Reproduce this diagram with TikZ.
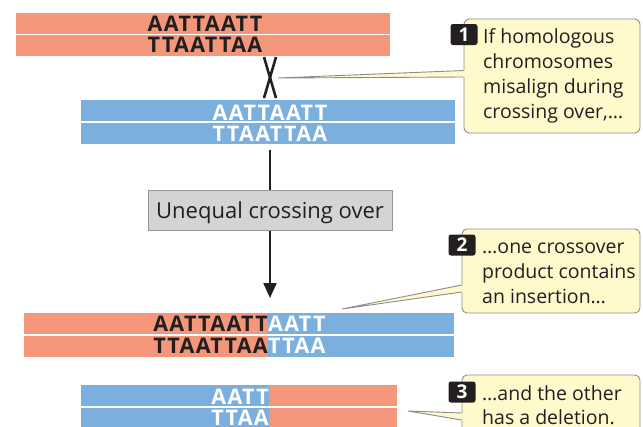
\documentclass[tikz,border=0pt]{standalone}
\usepackage{fontspec}
\setmainfont{Open Sans}
\newfontfamily\dnafont[LetterSpace=6]{Open Sans Bold}
\usetikzlibrary{arrows.meta}
\definecolor{salmon}{RGB}{244,150,122}
\definecolor{skyb}{RGB}{122,175,222}
\definecolor{callfill}{RGB}{255,249,204}
\definecolor{callline}{RGB}{140,140,140}
\definecolor{boxfill}{RGB}{212,212,212}
\definecolor{boxline}{RGB}{150,150,150}
\definecolor{txt}{RGB}{35,31,32}
\tikzset{
  redstrip/.style={fill=salmon, draw=none, inner sep=0pt, minimum height=21pt},
  bluestrip/.style={fill=skyb, draw=none, inner sep=0pt, minimum height=21pt},
  dnab/.style={inner sep=0pt, font=\dnafont\fontsize{21.5}{24}\selectfont, text=txt},
  dnaw/.style={inner sep=0pt, font=\dnafont\fontsize{21.5}{24}\selectfont, text=white},
  callbox/.style={fill=callfill, draw=callline, line width=0.9pt, rounded corners=5pt, inner sep=0pt},
  calltext/.style={inner sep=0pt, anchor=base west, font=\fontsize{19.5}{25}\selectfont, text=txt},
  badge/.style={fill=txt, rounded corners=2.5pt, inner sep=0pt, minimum width=27pt, minimum height=21pt,
     text=white, font=\bfseries\fontsize{19}{20}\selectfont},
  leader/.style={draw=callline, line width=0.9pt},
  graybox/.style={fill=boxfill, draw=boxline, line width=0.8pt, inner sep=0pt, minimum width=244pt, minimum height=40pt},
  xline/.style={draw=txt, line width=2.6pt},
  flowarrow/.style={draw=txt, line width=2.1pt, -{Triangle[width=13pt,length=15pt]}}
}
\begin{document}
\begin{tikzpicture}[x=1pt,y=-1pt]
\useasboundingbox (0,0) rectangle (643,426);
\clip (0,0) rectangle (643,426);

% top red chromosome
\node[redstrip, minimum width=374pt] (r1a) at (203,23) {};
\node[redstrip, minimum width=374pt] (r1b) at (203,45.2) {};
\node[dnab, anchor=base] (r1at) at (205,31.5) {AATTAATT};
\node[dnab, anchor=base] (r1bt) at (205,52.3) {TTAATTAA};

% crossover X
\coordinate (xa) at (264,57);
\coordinate (xb) at (276,98);
\coordinate (xc) at (276,57);
\coordinate (xd) at (264,98);
\draw[xline] (xa) -- (xb);
\draw[xline] (xc) -- (xd);

% blue chromosome
\node[bluestrip, minimum width=374pt] (b1a) at (268,110.7) {};
\node[bluestrip, minimum width=374pt] (b1b) at (268,133) {};
\node[dnaw, anchor=base] (b1at) at (270,120) {AATTAATT};
\node[dnaw, anchor=base] (b1bt) at (270,141) {TTAATTAA};

% arrow and label
\coordinate (arS) at (270,150);
\coordinate (arE) at (270,298);
\draw[flowarrow] (arS) -- (arE);
\node[graybox] (uco) at (270,210) {};
\node[inner sep=0pt, anchor=base, font=\fontsize{22}{26}\selectfont, text=txt] (ucot) at (270,218) {Unequal crossing over};

% product 1 (insertion)
\node[redstrip, minimum width=244pt] (p1ra) at (146,323.5) {};
\node[bluestrip, minimum width=186pt] (p1ba) at (361,323.5) {};
\node[redstrip, minimum width=244pt] (p1rb) at (146,346) {};
\node[bluestrip, minimum width=186pt] (p1bb) at (361,346) {};
\node[dnab, anchor=base east] (p1at) at (268,331.5) {AATTAATT};
\node[dnaw, anchor=base west] (p1bt) at (268,331.5) {AATT};
\node[dnab, anchor=base east] (p1ct) at (268,353) {TTAATTAA};
\node[dnaw, anchor=base west] (p1dt) at (268,353) {TTAA};

% product 2 (deletion)
\node[bluestrip, minimum width=188pt] (p2ba) at (175,395.5) {};
\node[redstrip, minimum width=128pt] (p2ra) at (333,395.5) {};
\node[bluestrip, minimum width=188pt] (p2bb) at (175,418) {};
\node[redstrip, minimum width=128pt] (p2rb) at (333,418) {};
\node[dnaw, anchor=base east] (p2at) at (269,404) {AATT};
\node[dnaw, anchor=base east] (p2bt) at (269,425.5) {TTAA};

% callout 1
\node[callbox, minimum width=176pt, minimum height=114pt] (c1) at (552,76) {};
\coordinate (l1) at (278,78);
\fill[callfill] (l1) -- (463.5,70.5) -- (468,70.5) -- (468,77) -- (463.5,77) -- cycle;
\draw[leader] (463.7,70.5) -- (l1) -- (463.7,77);
\node[badge] (n1) at (464,34.5) {1};
\node[calltext] (c1a) at (483,43) {If homologous};
\node[calltext] (c1b) at (483,68) {chromosomes};
\node[calltext] (c1c) at (483,93) {misalign during};
\node[calltext] (c1d) at (483,118) {crossing over,…};

% callout 2
\node[callbox, minimum width=178pt, minimum height=84pt] (c2) at (551,271) {};
\coordinate (l2) at (342,309);
\fill[callfill] (l2) -- (461.5,285) -- (466,285) -- (466,292) -- (461.5,292) -- cycle;
\draw[leader] (461.7,285) -- (l2) -- (461.7,292);
\node[badge] (n2) at (462,245) {2};
\node[calltext] (c2a) at (482,253) {…one crossover};
\node[calltext] (c2b) at (482,278) {product contains};
\node[calltext] (c2c) at (482,303) {an insertion…};

% callout 3
\node[callbox, minimum width=178pt, minimum height=80pt] (c3) at (551,415) {};
\coordinate (l3) at (408,411);
\fill[callfill] (l3) -- (461.5,413) -- (466,413) -- (466,420) -- (461.5,420) -- cycle;
\draw[leader] (461.7,413) -- (l3) -- (461.7,420);
\node[badge] (n3) at (462,392) {3};
\node[calltext] (c3a) at (482,400) {…and the other};
\node[calltext] (c3b) at (482,424) {has a deletion.};
\end{tikzpicture}
\end{document}
